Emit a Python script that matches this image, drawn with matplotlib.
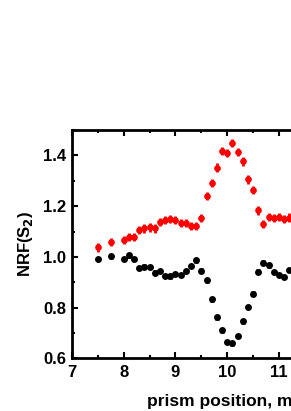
import numpy as np
from matplotlib import pyplot as plt
from matplotlib.ticker import MultipleLocator

plt.rcParams['font.family'] = ['Liberation Sans', 'DejaVu Sans']
plt.rcParams['font.weight'] = 'bold'

# prism positions (mm)
pos = [7.5, 7.75, 8.0, 8.1, 8.2, 8.3, 8.4, 8.5, 8.6, 8.7, 8.8, 8.9, 9.0,
       9.1, 9.2, 9.3, 9.4, 9.5, 9.6, 9.7, 9.8, 9.9, 10.0, 10.1, 10.2, 10.3,
       10.4, 10.5, 10.6, 10.7, 10.8, 10.9, 11.0, 11.1, 11.2]

nrf_red = [1.037, 1.058, 1.068, 1.077, 1.077, 1.105, 1.112, 1.116, 1.112,
           1.139, 1.146, 1.148, 1.145, 1.135, 1.132, 1.121, 1.120, 1.152,
           1.239, 1.290, 1.352, 1.418, 1.411, 1.448, 1.415, 1.376, 1.305,
           1.265, 1.183, 1.130, 1.156, 1.154, 1.156, 1.150, 1.155]

nrf_black = [0.991, 1.002, 0.992, 1.006, 0.992, 0.956, 0.962, 0.960, 0.938,
             0.944, 0.924, 0.923, 0.932, 0.928, 0.944, 0.964, 0.986, 0.946,
             0.908, 0.833, 0.762, 0.710, 0.665, 0.659, 0.688, 0.746, 0.803,
             0.855, 0.942, 0.977, 0.967, 0.940, 0.929, 0.920, 0.949]

err_red = 0.016
err_black = 0.009

fig = plt.figure(figsize=(2.91, 4.11), dpi=100)
# axes run past the right edge of the picture (cropped figure)
ax = fig.add_axes([0.2474, 0.128, 1.067, 0.5557])

ax.errorbar(pos, nrf_black, yerr=err_black, fmt='o', color='black', ms=5,
            mew=0, elinewidth=3.4, capsize=0)
ax.errorbar(pos, nrf_red, yerr=err_red, fmt='o', color='red', ms=4.8,
            mew=0, elinewidth=2, capsize=2.2, capthick=1.6)

ax.set_xlim(7, 13)
ax.set_ylim(0.6, 1.5)
ax.xaxis.set_major_locator(MultipleLocator(1))
ax.xaxis.set_minor_locator(MultipleLocator(0.5))
ax.yaxis.set_major_locator(MultipleLocator(0.2))
ax.yaxis.set_minor_locator(MultipleLocator(0.1))
ax.yaxis.set_major_formatter(plt.FormatStrFormatter('%.1f'))

for s in ax.spines.values():
    s.set_linewidth(2)
ax.tick_params(which='both', direction='in', top=True, right=True, width=1.5)
ax.tick_params(which='major', length=4, labelsize=12)
ax.tick_params(axis='y', which='major', pad=4)
ax.tick_params(axis='x', which='major', pad=5)
ax.tick_params(which='minor', length=2)

ax.set_xlabel('prism position, mm', fontsize=12.5, fontweight='bold', labelpad=10)
ax.set_ylabel('NRF(S$_\\mathbf{2}$)', fontsize=12, fontweight='bold', labelpad=6)

plt.savefig('out.png', dpi=100)
